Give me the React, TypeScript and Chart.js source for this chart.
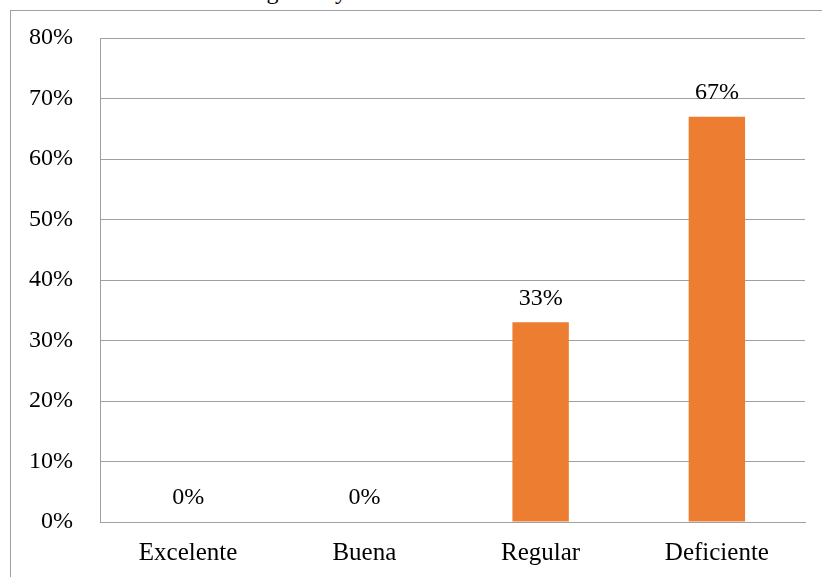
import React, { useEffect, useRef } from "react";
import { Chart, registerables } from "chart.js";

Chart.register(...registerables);

const categories = ["Excelente", "Buena", "Regular", "Deficiente"];
const values = [0, 0, 33, 67];
const yTicks = [0, 10, 20, 30, 40, 50, 60, 70, 80];
const titleText = "Gráfico de la estructura orgánica y funcional";

const FONT = "'Liberation Serif', 'Times New Roman', serif";

const labelPlugin = {
  id: "valueLabels",
  afterDatasetsDraw(chart: any) {
    const ctx = chart.ctx;
    const meta = chart.getDatasetMeta(0);
    ctx.save();
    ctx.font = `24px ${FONT}`;
    ctx.fillStyle = "#000";
    ctx.textAlign = "center";
    ctx.textBaseline = "bottom";
    meta.data.forEach((bar: any, i: number) => {
      ctx.fillText(`${values[i]}%`, bar.x, bar.y - 12);
    });
    ctx.restore();
  },
};

export default function App() {
  const ref = useRef<HTMLCanvasElement>(null);
  useEffect(() => {
    if (!ref.current) return;
    const chart = new Chart(ref.current, {
      type: "bar",
      data: {
        labels: categories,
        datasets: [
          {
            data: values,
            backgroundColor: "#ED7D31",
            categoryPercentage: 1,
            barPercentage: 0.32,
          },
        ],
      },
      options: {
        animation: false,
        responsive: false,
        maintainAspectRatio: false,
        layout: { padding: { top: 38, right: 17, bottom: 0, left: 0 } },
        plugins: { legend: { display: false }, tooltip: { enabled: false } },
        scales: {
          x: {
            afterFit: (s: any) => {
              s.height = 55;
              s.paddingLeft = 0;
              s.paddingRight = 0;
            },
            grid: { display: false },
            border: { display: true, color: "#A0A0A0" },
            ticks: { color: "#000", font: { family: FONT, size: 25 }, padding: 8 },
          },
          y: {
            min: 0,
            max: 80,
            afterFit: (s: any) => {
              s.width = 100;
              s.paddingTop = 0;
              s.paddingBottom = 0;
            },
            afterBuildTicks: (s: any) => {
              s.ticks = yTicks.map((v) => ({ value: v }));
            },
            grid: { color: "#A0A0A0", drawTicks: false },
            border: { display: true, color: "#A0A0A0" },
            ticks: {
              color: "#000",
              font: { family: FONT, size: 24 },
              padding: 27,
              callback: (v: any) => `${v}%`,
            },
          },
        },
      },
      plugins: [labelPlugin],
    });
    return () => chart.destroy();
  }, []);
  return (
    <div
      style={{
        position: "fixed",
        left: 0,
        top: 0,
        width: 822,
        height: 577,
        background: "#fff",
        overflow: "hidden",
      }}
    >
      <div
        style={{
          position: "absolute",
          left: 15,
          top: -21,
          fontFamily: FONT,
          fontSize: 24,
          lineHeight: "24px",
          whiteSpace: "nowrap",
          color: "#000",
        }}
      >
        {titleText}
      </div>
      <div
        style={{
          position: "absolute",
          left: 10,
          top: 10,
          width: 830,
          height: 600,
          borderLeft: "1px solid #A0A0A0",
          borderTop: "1px solid #A0A0A0",
        }}
      />
      <canvas
        ref={ref}
        width={822}
        height={577}
        style={{ position: "absolute", left: 0, top: 0 }}
      />
    </div>
  );
}
